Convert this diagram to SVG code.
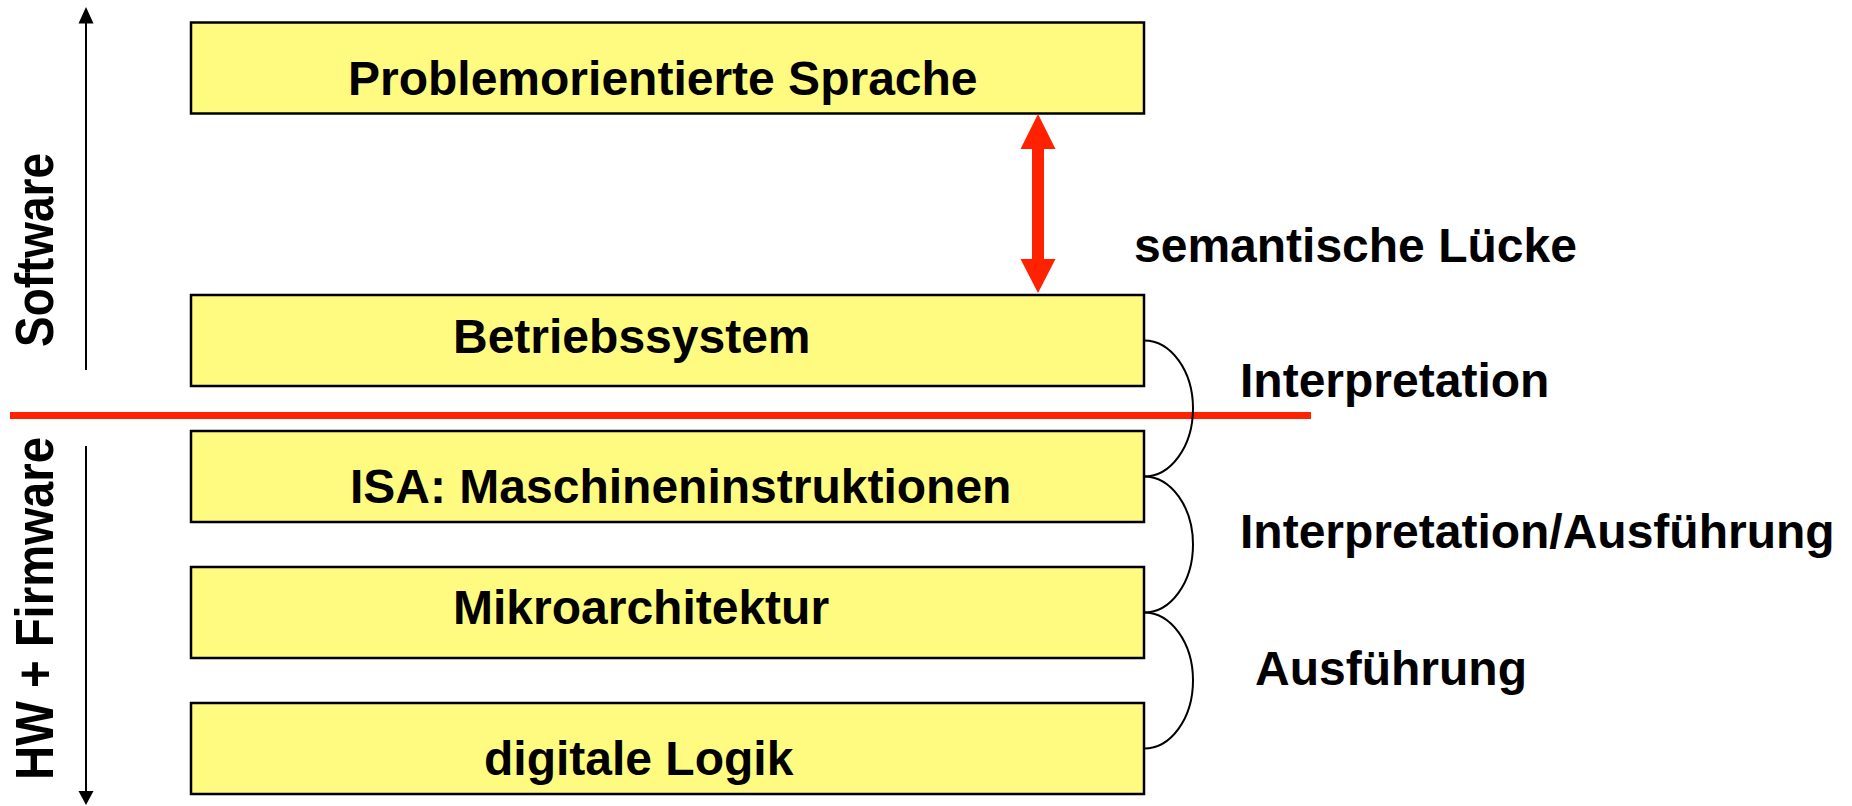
<svg xmlns="http://www.w3.org/2000/svg" width="1852" height="806" viewBox="0 0 1852 806">
  <style>
    .layer { fill: #FFFB80; stroke: #000; stroke-width: 2.5; }
    .lbl { font-family: "Liberation Sans", Arial, sans-serif; font-weight: bold; font-size: 48px; fill: #000; }
    .brace { fill: none; stroke: #000; stroke-width: 2; }
    .axis { stroke: #000; stroke-width: 2; fill: none; }
  </style>
  <rect width="1852" height="806" fill="#fff"/>

  <!-- layer stack -->
  <g id="node-problemorientierte-sprache">
    <rect class="layer" x="191" y="22.5" width="953" height="91"/>
    <text class="lbl" x="348" y="95">Problemorientierte Sprache</text>
  </g>
  <g id="node-betriebssystem">
    <rect class="layer" x="191" y="295" width="953" height="91"/>
    <text class="lbl" x="453" y="353">Betriebssystem</text>
  </g>
  <g id="node-isa">
    <rect class="layer" x="191" y="431" width="953" height="91"/>
    <text class="lbl" x="350" y="503">ISA: Maschineninstruktionen</text>
  </g>
  <g id="node-mikroarchitektur">
    <rect class="layer" x="191" y="567" width="953" height="91"/>
    <text class="lbl" x="453" y="624">Mikroarchitektur</text>
  </g>
  <g id="node-digitale-logik">
    <rect class="layer" x="191" y="703" width="953" height="91"/>
    <text class="lbl" x="484" y="775">digitale Logik</text>
  </g>

  <!-- side axis labels -->
  <g id="axis-software">
    <line class="axis" x1="86" y1="370" x2="86" y2="22"/>
    <polygon points="86,7 78.5,23.5 93.5,23.5" fill="#000"/>
    <text class="lbl" transform="translate(53,250) rotate(-90) scale(1,1.1)" text-anchor="middle" textLength="194" lengthAdjust="spacingAndGlyphs">Software</text>
  </g>
  <g id="axis-hardware">
    <line class="axis" x1="86" y1="446" x2="86" y2="792"/>
    <polygon points="86,805 78.5,791 93.5,791" fill="#000"/>
    <text class="lbl" transform="translate(53,608.5) rotate(-90) scale(1,1.1)" text-anchor="middle" textLength="343" lengthAdjust="spacingAndGlyphs">HW + Firmware</text>
  </g>

  <!-- connectors -->
  <g id="connectors">
    <!-- hardware/software boundary -->
    <rect x="10" y="412" width="1301" height="7" fill="#FF2200"/>
    <!-- semantic gap -->
    <polygon fill="#FF2200" points="1038,114 1020.5,149 1032,149 1032,259 1020.5,259 1038,293 1055.5,259 1044,259 1044,149 1055.5,149"/>
    <!-- level transitions -->
    <path class="brace" d="M1144,340.5 A49,68 0 0 1 1144,476.5"/>
    <path class="brace" d="M1144,476.5 A49,68 0 0 1 1144,612.5"/>
    <path class="brace" d="M1144,612.5 A49,68 0 0 1 1144,748.5"/>
  </g>

  <!-- connector labels -->
  <g id="labels">
    <text class="lbl" x="1134" y="262">semantische Lücke</text>
    <text class="lbl" x="1240" y="397">Interpretation</text>
    <text class="lbl" x="1240" y="548">Interpretation/Ausführung</text>
    <text class="lbl" x="1255" y="685">Ausführung</text>
  </g>
</svg>
